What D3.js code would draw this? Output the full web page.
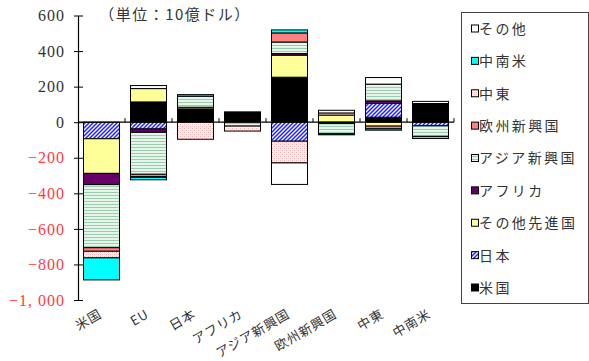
<!DOCTYPE html>
<html>
<head>
<meta charset="utf-8">
<script src="https://cdn.jsdelivr.net/npm/d3@7"></script>
<style>
  body { margin: 0; background: #fff; }
  svg { display: block; }
  .serif { font-family: "Liberation Serif", "DejaVu Serif", serif; }
</style>
</head>
<body>
<svg id="drawing_region"></svg>
<script>
// categories (x axis)
const categories = ["米国", "EU", "日本", "アフリカ", "アジア新興国", "欧州新興国", "中東", "中南米"];

// series in stacking order, values per category (10億ドル)
const seriesNames = ["米国", "日本", "その他先進国", "アフリカ", "アジア新興国", "欧州新興国", "中東", "中南米", "その他"];
const usValues      = [   0,  114,  75,  58,  253,   0,  28, 105];
const japanValues   = [ -93,  -38,   0,   0, -107,  -8,  77, -20];
const otherAdvValues= [-195,   75,   9,   0,  124,  40, -22,   0];
const africaValues  = [ -63,  -19,   0,   0,    9,   0,  15,   0];
const asiaEmValues  = [-355, -236,  62, -22,   65, -57,  94, -60];
const euroEmValues  = [ -20,  -13,   0,   0,   51,   0, -15,   0];
const meValues      = [ -37,   -4, -96, -28, -122,  12,   0,   0];
const latamValues   = [-124,  -14,   9,   0,   17,  -6,  -8, -12];
const otherValues   = [   0,   17,   0,   0, -121,  15,  37,  12];

// y axis ticks
const yTicks = [600, 400, 200, 0, -200, -400, -600, -800, -1000];
const yTickLabels = ["600", "400", "200", "0", "−200", "−400", "−600", "−800", "−1, 000"];

const title = "（単位：10億ドル）";

const seriesValues = [usValues, japanValues, otherAdvValues, africaValues, asiaEmValues,
                      euroEmValues, meValues, latamValues, otherValues];

const fills = ["#000000", "url(#hatch)", "#ffff99", "#660066", "url(#stripes)",
               "#ff8080", "url(#dots)", "#00ffff", "#ffffff"];

const config = {
    width: 589,
    height: 361,
    left: 78,
    right: 454,
    top: 15.5,
    bottom: 300
};

const table = categories.map((c, i) => {
    const row = { category: c };
    seriesNames.forEach((s, j) => { row[s] = seriesValues[j][i]; });
    return row;
});

const svg = d3.select("#drawing_region")
    .attr("width", config.width)
    .attr("height", config.height);

const defs = svg.append("defs");

const hatch = defs.append("pattern")
    .attr("id", "hatch")
    .attr("patternUnits", "userSpaceOnUse")
    .attr("width", 4).attr("height", 4);
hatch.append("rect").attr("width", 4).attr("height", 4).attr("fill", "#ffffff");
hatch.append("path")
    .attr("d", "M-1,1 l2,-2 M0,4 l4,-4 M3,5 l2,-2")
    .attr("stroke", "#2020ff")
    .attr("stroke-width", 1.5);

const stripes = defs.append("pattern")
    .attr("id", "stripes")
    .attr("patternUnits", "userSpaceOnUse")
    .attr("width", 4).attr("height", 3);
stripes.append("rect").attr("width", 4).attr("height", 3).attr("fill", "#e6f4ea");
stripes.append("rect").attr("width", 4).attr("height", 1).attr("fill", "#98ceae");

const dots = defs.append("pattern")
    .attr("id", "dots")
    .attr("patternUnits", "userSpaceOnUse")
    .attr("width", 4).attr("height", 4);
dots.append("rect").attr("width", 4).attr("height", 4).attr("fill", "#fff4f4");
dots.append("rect").attr("x", 0).attr("y", 0).attr("width", 1).attr("height", 1).attr("fill", "#ffaaaa");
dots.append("rect").attr("x", 2).attr("y", 2).attr("width", 1).attr("height", 1).attr("fill", "#ffaaaa");
dots.append("rect").attr("x", 2).attr("y", 0).attr("width", 1).attr("height", 1).attr("fill", "#ffd8d8");
dots.append("rect").attr("x", 0).attr("y", 2).attr("width", 1).attr("height", 1).attr("fill", "#ffd8d8");

const xscale = d3.scaleBand()
    .domain(categories)
    .range([config.left, config.right])
    .paddingInner(0.234)
    .paddingOuter(0.117);

const yscale = d3.scaleLinear()
    .domain([-1000, 600])
    .range([config.bottom, config.top]);

const stack = d3.stack()
    .keys(seriesNames)
    .offset(d3.stackOffsetDiverging);
const stacked = stack(table);

const jp = "'Noto Sans CJK JP', sans-serif";

// bars
const layers = svg.append("g").selectAll("g")
    .data(stacked)
    .join("g")
    .attr("fill", (d, i) => fills[i]);

layers.selectAll("rect")
    .data(d => d.filter(p => p[1] - p[0] !== 0))
    .join("rect")
    .attr("x", d => xscale(d.data.category))
    .attr("y", d => yscale(d[1]))
    .attr("width", xscale.bandwidth())
    .attr("height", d => yscale(d[0]) - yscale(d[1]))
    .attr("stroke", "#000")
    .attr("stroke-width", 1);

// y axis
const yaxis = d3.axisLeft(yscale)
    .tickValues(yTicks)
    .tickSize(0)
    .tickFormat((d, i) => yTickLabels[i]);

const yaxis_group = svg.append("g")
    .attr("transform", `translate(${config.left},0)`)
    .call(yaxis);
yaxis_group.attr("font-family", null);
yaxis_group.select(".domain").attr("stroke", "#000").attr("stroke-width", 1.2);
yaxis_group.selectAll(".tick line").remove();
yaxis_group.selectAll(".tick").append("line")
    .attr("x1", -4).attr("x2", 5)
    .attr("stroke", "#000").attr("stroke-width", 1);
yaxis_group.selectAll(".tick text")
    .attr("class", "serif")
    .attr("x", -13)
    .attr("font-size", "16px")
    .attr("letter-spacing", "1px")
    .attr("fill", d => d < 0 ? "#ff3b3b" : "#333");

// category axis at zero
const xaxis = d3.axisBottom(xscale).tickSize(0).tickFormat("");
const xaxis_group = svg.append("g")
    .attr("transform", `translate(0,${yscale(0)})`)
    .call(xaxis);
xaxis_group.select(".domain")
    .attr("d", `M${config.left},0H${config.right}`)
    .attr("stroke", "#000").attr("stroke-width", 1.2);
xaxis_group.selectAll(".tick").remove();
const step = xscale.step();
xaxis_group.selectAll(".ctick")
    .data(categories)
    .join("line")
    .attr("x1", d => xscale(d) - xscale.padding() * step / 2 + step)
    .attr("x2", d => xscale(d) - xscale.padding() * step / 2 + step)
    .attr("y1", -4).attr("y2", 0)
    .attr("stroke", "#000");

// category labels
svg.append("g").selectAll("text")
    .data(categories)
    .join("text")
    .attr("transform", d => `translate(${xscale(d) + xscale.bandwidth() / 2 - 1},${config.bottom + 13}) rotate(-30)`)
    .attr("text-anchor", "end")
    .attr("dy", "0.35em")
    .attr("font-family", jp)
    .attr("font-size", "13px")
    .attr("letter-spacing", "0.8px")
    .attr("fill", "#333")
    .text(d => d);

// title
svg.append("text")
    .attr("x", 175)
    .attr("y", 20)
    .attr("text-anchor", "middle")
    .attr("font-family", jp)
    .attr("font-size", "15px")
    .attr("letter-spacing", "1.5px")
    .attr("fill", "#333")
    .text(title);

// legend
const legend = svg.append("g");
legend.append("rect")
    .attr("x", 461.5).attr("y", 12.5)
    .attr("width", 127).attr("height", 291)
    .attr("fill", "#fff")
    .attr("stroke", "#444");

const legendItems = seriesNames.map((s, i) => ({ name: s, fill: fills[i] })).reverse();
const legendY = d3.scalePoint()
    .domain(legendItems.map(d => d.name))
    .range([29, 288]);

legend.selectAll("rect.sw")
    .data(legendItems)
    .join("rect")
    .attr("class", "sw")
    .attr("x", 471.5)
    .attr("y", d => legendY(d.name) - 4)
    .attr("width", 7).attr("height", 7)
    .attr("fill", d => d.fill)
    .attr("stroke", "#000");

legend.selectAll("text")
    .data(legendItems)
    .join("text")
    .attr("x", 479)
    .attr("y", d => legendY(d.name))
    .attr("dy", "0.35em")
    .attr("font-family", jp)
    .attr("font-size", "14px")
    .attr("letter-spacing", "2.4px")
    .attr("fill", "#333")
    .text(d => d.name);
</script>
</body>
</html>
